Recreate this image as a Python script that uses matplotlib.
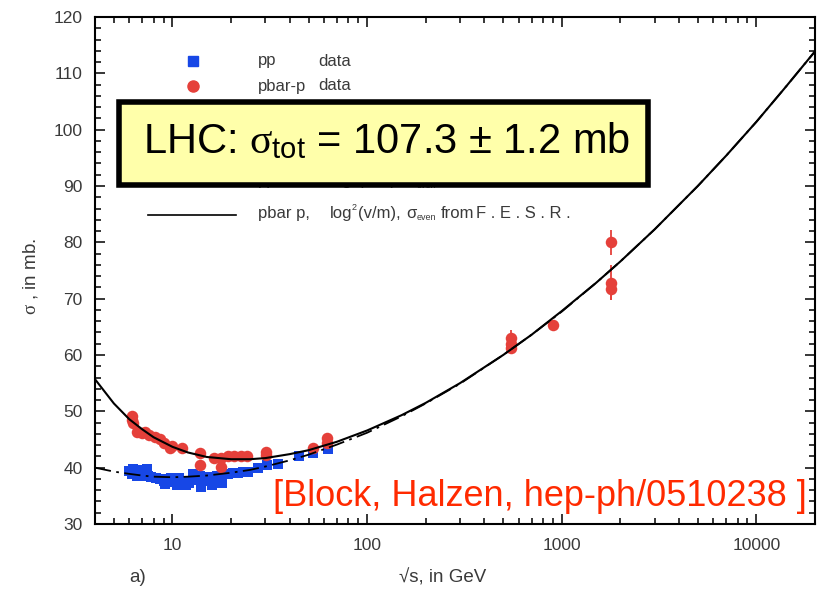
import matplotlib
matplotlib.use('Agg')
import matplotlib.pyplot as plt
import matplotlib.patches as mpatches
from matplotlib.ticker import FixedLocator, MultipleLocator, NullFormatter

plt.rcParams.update({
    "font.family": ["Liberation Sans", "DejaVu Sans"],
    "mathtext.fontset": "custom",
    "mathtext.rm": "Liberation Sans",
    "mathtext.it": "Liberation Serif",
})

C_BLUE = "#1747E6"
C_RED = "#E5403A"
C_GRAY = "#3a3a3a"
C_BOX = "#FFFFAA"
C_CITE = "#FF2A00"

# fit curves
fit_sqrt_s = [4, 5, 6, 7, 8, 10, 12, 15, 20, 25, 30, 40, 50, 70, 100, 150, 200,
              300, 500, 700, 1000, 1500, 2000, 3000, 5000, 7000, 10000, 14000, 20000]
fit_pbarp = [55.7, 51.4, 48.6, 46.8, 45.4, 43.7, 42.7, 41.9, 41.5, 41.5, 41.7, 42.4,
             43.1, 44.6, 46.6, 49.3, 51.5, 55.0, 60.0, 63.6, 67.8, 72.8, 76.6, 82.3,
             90.0, 95.4, 101.4, 107.4, 113.9]
fit_pp = [40.0, 39.3, 38.9, 38.6, 38.4, 38.3, 38.4, 38.6, 39.1, 39.6, 40.2, 41.3,
          42.3, 44.1, 46.2, 49.1, 51.4, 54.9, 60.0, 63.6, 67.7, 72.8, 76.6, 82.3,
          90.0, 95.4, 101.4, 107.4, 113.9]

# pp data
pp_sqrt_s = [6.0, 6.2, 6.4, 6.6, 6.8, 7.0, 7.2, 7.5, 7.8, 8.2, 8.6, 9.0, 9.4, 9.8,
             10.3, 10.8, 11.5, 12.2, 13.0, 13.8, 14.3, 15.0, 15.6, 16.3, 17.0, 17.8,
             18.6, 19.4, 20.5, 21.7, 23.0, 24.3, 27.5, 30.6, 35.0, 44.7, 52.8, 62.7,
             6.3, 6.9, 7.4, 10.6, 11.8, 14.0, 16.0, 18.0, 9.2, 12.8]
pp_sigma = [39.4, 38.8, 39.3, 38.6, 39.0, 38.5, 38.9, 38.6, 38.3, 38.2, 38.0, 37.6,
            37.9, 38.1, 37.5, 38.1, 37.5, 37.3, 37.8, 38.5, 38.0, 37.6, 38.3, 37.8,
            38.6, 38.2, 38.8, 38.9, 39.1, 39.0, 39.3, 39.2, 40.0, 40.4, 40.6, 42.1,
            42.6, 43.4,
            39.8, 39.6, 39.7, 37.0, 36.9, 36.6, 37.0, 37.2, 37.1, 38.8]
pp_err = [0.6, 0.5, 0.7, 0.7, 0.7, 0.6, 0.8, 0.5, 0.4, 0.4, 0.4, 0.4, 0.4, 0.4,
          0.4, 0.4, 0.4, 0.4, 0.3, 0.3, 0.6, 0.4, 0.3, 0.3, 0.3, 0.3, 0.3, 0.3,
          0.3, 0.3, 0.3, 0.3, 0.3, 0.3, 0.3, 0.3, 0.3, 0.3,
          0.9, 0.8, 0.8, 0.4, 0.4, 0.5, 0.4, 0.4, 0.4, 0.3]

# pbar-p data
pbp_sqrt_s = [6.2, 6.2, 6.3, 6.6, 7.0, 7.2, 7.6, 8.1, 8.6, 9.1, 9.7, 10.0, 11.2, 13.8,
              13.8, 16.4, 17.8, 17.8, 19.2, 20.8, 22.6, 24.2, 30.4, 30.4, 52.6, 62.3,
              62.3, 546, 546, 546, 900, 1800, 1800, 1800]
pbp_sigma = [49.2, 48.4, 47.9, 46.4, 46.2, 46.4, 45.8, 45.5, 45.0, 44.4, 43.5, 43.9,
             43.5, 42.6, 40.5, 41.7, 41.7, 40.1, 42.0, 42.0, 42.0, 42.0, 42.8, 42.3,
             43.5, 45.2, 44.3, 63.0, 61.9, 61.3, 65.3, 80.0, 72.8, 71.7]
pbp_err = [0.5, 0.5, 0.4, 0.4, 0.4, 0.4, 0.4, 0.4, 0.4, 0.4, 0.4, 0.4, 0.4, 0.4,
           0.4, 0.4, 0.4, 0.6, 0.4, 0.4, 0.4, 0.4, 0.4, 0.4, 0.4, 0.4, 0.4, 1.5,
           1.5, 0.9, 0.7, 2.2, 3.1, 2.0]

x_ticks = [10, 100, 1000, 10000]
y_ticks = list(range(30, 121, 10))

W, H = 835, 592
fig = plt.figure(figsize=(W / 100, H / 100), dpi=100)
ax = fig.add_axes([95 / W, 1 - 524 / H, 720 / W, 507 / H])


def fpos(px, py):
    return px / W, 1 - py / H


ax.plot(fit_sqrt_s, fit_pbarp, color="black", lw=1.5, zorder=3)
ax.plot(fit_sqrt_s, fit_pp, color="black", lw=1.3, ls=(0, (9, 3, 1.5, 3)), zorder=3)

ax.errorbar(pp_sqrt_s, pp_sigma, yerr=pp_err, fmt="s", ms=7.2, color=C_BLUE,
            ecolor=C_BLUE, elinewidth=1.2, capsize=2, mew=0, zorder=2)
ax.errorbar(pbp_sqrt_s, pbp_sigma, yerr=pbp_err, fmt="o", ms=8.3, color=C_RED,
            ecolor=C_RED, elinewidth=1.3, capsize=2.5, mew=0, zorder=2)

ax.set_xscale("log")
ax.set_xlim(4, 20000)
ax.set_ylim(30, 120)
ax.xaxis.set_major_locator(FixedLocator(x_ticks))
ax.set_xticklabels([str(t) for t in x_ticks])
ax.xaxis.set_minor_formatter(NullFormatter())
ax.yaxis.set_major_locator(FixedLocator(y_ticks))
ax.yaxis.set_minor_locator(MultipleLocator(2))

for s in ax.spines.values():
    s.set_linewidth(1.5)
ax.tick_params(which="both", direction="in", top=True, right=True,
               labelcolor=C_GRAY, labelsize=12.5, width=1.1)
ax.tick_params(which="major", length=7)
ax.tick_params(which="minor", length=4.5)
ax.tick_params(axis="y", pad=9)
ax.tick_params(axis="x", pad=10)

fig.text(*fpos(31, 276), r"$\sigma$ , in mb.", rotation=90, ha="center",
         va="center", fontsize=13.5, color=C_GRAY)
fig.text(*fpos(443, 578), "\u221as, in GeV", ha="center", va="center",
         fontsize=13.5, color=C_GRAY)
fig.text(*fpos(138, 578), "a)", ha="center", va="center", fontsize=13.5,
         color=C_GRAY)

# legend, drawn by hand like the original
fig.lines.append(plt.Line2D(*zip(fpos(193, 61)), marker="s", ms=7,
                            color=C_BLUE, ls="none", transform=fig.transFigure))
fig.lines.append(plt.Line2D(*zip(fpos(193, 86)), marker="o", ms=8,
                            color=C_RED, ls="none", transform=fig.transFigure))
leg_kw = dict(fontsize=12, color=C_GRAY, va="center", ha="left")
small_kw = dict(fontsize=6.5, color=C_GRAY, va="center", ha="left")
fig.text(*fpos(258, 61), "pp", **leg_kw)
fig.text(*fpos(318, 61), "data", **leg_kw)
fig.text(*fpos(258, 86), "pbar-p", **leg_kw)
fig.text(*fpos(318, 86), "data", **leg_kw)


def legend_row(py, label, dashed):
    x0, y0 = fpos(148, py + 2)
    x1, _ = fpos(236, py + 2)
    ls = (0, (9, 3, 1.5, 3)) if dashed else "-"
    fig.lines.append(plt.Line2D([x0, x1], [y0, y0], color="black", lw=1.2,
                                ls=ls, transform=fig.transFigure))
    fig.text(*fpos(258, py), label, **leg_kw)
    fig.text(*fpos(330, py), "log", **leg_kw)
    fig.text(*fpos(352, py - 6), "2", **small_kw)
    fig.text(*fpos(358, py), "(v/m),", **leg_kw)
    fig.text(*fpos(406, py), "\u03c3", **leg_kw)
    fig.text(*fpos(417, py + 5), "even", **small_kw)
    fig.text(*fpos(441, py), "from", **leg_kw)
    fig.text(*fpos(476, py), "F . E . S . R .", **leg_kw)


legend_row(180, "pp", True)
legend_row(213, "pbar p,", False)

# highlighted LHC box
bx0, by0 = fpos(119, 185)
bx1, by1 = fpos(648, 102)
fig.patches.append(mpatches.Rectangle((bx0, by0), bx1 - bx0, by1 - by0,
                                      transform=fig.transFigure, facecolor=C_BOX,
                                      edgecolor="black", linewidth=4, zorder=5))
fig.text(*fpos(387, 142), r"LHC: $\sigma_{\rm tot}$ = 107.3 ± 1.2 mb", ha="center",
         va="center", fontsize=30, color="black", zorder=6)

fig.text(*fpos(540, 497), "[Block, Halzen, hep-ph/0510238 ]", ha="center",
         va="center", fontsize=26, color=C_CITE, zorder=6)

fig.savefig("out.png", dpi=100)
